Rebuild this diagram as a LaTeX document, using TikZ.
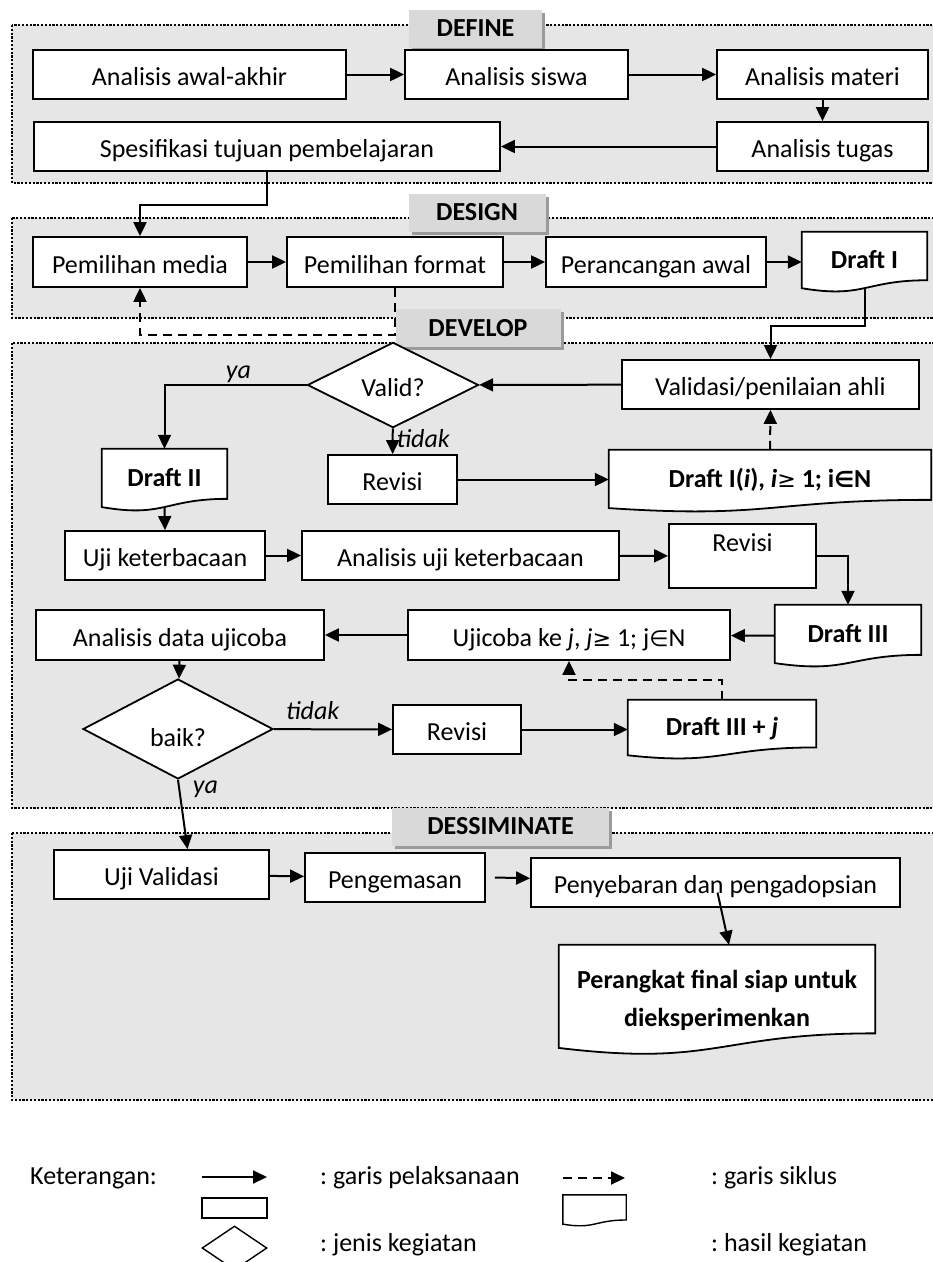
\documentclass[tikz,border=0pt]{standalone}
\usepackage{fontspec}
\setmainfont{Carlito}
\newfontfamily\symfont[Scale=0.85]{DejaVu Sans}
\usepackage{tikz}
\usetikzlibrary{calc}
\usetikzlibrary{shapes.geometric,arrows.meta}
\usetikzlibrary{shadows}

\definecolor{panelgray}{HTML}{E6E6E6}
\definecolor{tabgray}{HTML}{D9D9D9}
\definecolor{tabshadow}{HTML}{9B9B9B}

\pgfdeclarelayer{panel}
\pgfdeclarelayer{docs}
\pgfsetlayers{panel,docs,main}

% outline of a document box (wavy bottom) round a node
\newcommand{\docshape}[1]{%
	\draw[boxline, fill=white] (#1.north west) -- (#1.north east)
	-- ($(#1.north east)!0.802!(#1.south east)$)
	.. controls ($(#1.north)!0.802!(#1.south)$) and ($(#1.north)!1.107!(#1.south)$)
	.. ($(#1.north west)!0.934!(#1.south west)$) -- cycle;}

\begin{document}
\frenchspacing
\fontsize{26}{31}\selectfont
\begin{tikzpicture}[x=1pt,y=-1pt,
	boxline/.style={line width=1.8pt},
	box/.style={draw, fill=white, boxline, minimum height=49pt, inner sep=2pt, text height=22pt, text depth=0pt},
	doc/.style={inner sep=2pt, font=\bfseries},
	docline/.style={doc, text height=17pt, text depth=5pt},
	dec/.style={diamond, draw, fill=white, boxline, inner sep=0pt, text height=22pt, text depth=0pt},
	tab/.style={fill=tabgray, minimum height=38pt, inner sep=0pt, font=\bfseries,
		drop shadow={shadow xshift=3pt, shadow yshift=-3pt, fill=tabshadow, opacity=1}},
	panelbox/.style={fill=panelgray, draw, line width=2.4pt, dash pattern=on 2.2pt off 1.6pt},
	arr/.style={line width=2pt, -{Triangle[length=14pt,width=13pt]}},
	cyc/.style={arr, dash pattern=on 9pt off 6pt},
	lab/.style={font=\itshape},
	legtext/.style={anchor=west, inner xsep=0pt}]
	
	\useasboundingbox (0,0) rectangle (933,1262);
	
	\begin{pgfonlayer}{panel}
	\draw[panelbox] (12,25) rectangle (945,183);
	\draw[panelbox] (12,218) rectangle (945,318);
	\draw[panelbox] (12,343) rectangle (945,808);
	\draw[panelbox] (12,833) rectangle (945,1100);
	\end{pgfonlayer}
	
	% DEFINE
	\node[tab, minimum width=133pt] (tdefine) at (475.5,28.5) {DEFINE};
	\node[box, minimum width=313pt] (awal) at (189.5,74.5) {Analisis awal-akhir};
	\node[box, minimum width=223pt] (siswa) at (516.5,74.5) {Analisis siswa};
	\node[box, minimum width=211pt] (materi) at (822.5,74.5) {Analisis materi};
	\node[box, minimum width=211pt] (tugas) at (822.5,146.5) {Analisis tugas};
	\node[box, minimum width=466pt] (spesifikasi) at (267,146.5) {Spesifikasi tujuan pembelajaran};
	
	% DESIGN
	\node[tab, minimum width=137pt] (tdesign) at (477,212.5) {DESIGN};
	\node[box, minimum width=214pt, minimum height=50pt] (media) at (140,262) {Pemilihan media};
	\node[box, minimum width=216pt, minimum height=50pt] (format) at (395,262) {Pemilihan format};
	\node[box, minimum width=220pt, minimum height=50pt] (rancang) at (656,262) {Perancangan awal};
	\node[docline, minimum width=125pt, minimum height=60pt] (draftI) at (864.5,262) {Draft I};
	
	% DEVELOP
	\node[tab, minimum width=165pt] (tdevelop) at (478,328) {DEVELOP};
	\node[box, minimum width=297pt] (validasi) at (770.5,384.5) {Validasi/penilaian ahli};
	\node[dec, minimum width=171pt, minimum height=60pt] (valid) at (393,385) {Valid?};
	\node[docline, minimum width=125pt, minimum height=62pt] (draftII) at (164.5,480) {Draft II};
	\node[box, minimum width=129pt] (revisiA) at (392.5,479.5) {Revisi};
	\node[docline, minimum width=322pt, minimum height=62pt] (draftIi) at (770,481) {Draft I(\textit{i}), \textit{i}{\symfont\mdseries ≥} 1; i{\symfont ∈}N};
	\node[box, minimum width=200pt] (ujibaca) at (165,555.5) {Uji keterbacaan};
	\node[box, minimum width=317pt] (analisisbaca) at (460.5,555.5) {Analisis uji keterbacaan};
	\node[box, minimum width=147pt, minimum height=64pt, text height=18pt, text depth=27pt] (revisiB) at (742.5,556) {Revisi};
	\node[docline, minimum width=146pt, minimum height=62pt] (draftIII) at (848,636) {Draft III};
	\node[box, minimum width=322pt, minimum height=50pt] (ujicoba) at (569,635) {Ujicoba ke \textit{j}, \textit{j}{\symfont ≥} 1; j{\symfont ∈}N};
	\node[box, minimum width=288pt, minimum height=50pt] (analisisdata) at (180,635) {Analisis data ujicoba};
	\node[dec, minimum width=190pt, minimum height=100pt, text height=34pt, text depth=0pt] (baik) at (178,729) {baik?};
	\node[box, minimum width=128pt] (revisiC) at (457,729.5) {Revisi};
	\node[docline, minimum width=188pt, minimum height=59pt] (draftIIIj) at (722,729.5) {Draft III + \textit{j}};
	
	% DESSIMINATE
	\node[tab, minimum width=217pt] (tdessiminate) at (500.5,826.5) {DESSIMINATE};
	\node[box, minimum width=215pt] (ujivalidasi) at (161.5,874.5) {Uji Validasi};
	\node[box, minimum width=180pt] (kemas) at (395,877.5) {Pengemasan};
	\node[box, minimum width=369pt] (sebar) at (715.5,882.5) {Penyebaran dan pengadopsian};
	\node[doc, minimum width=316pt, minimum height=110pt, align=center] (final) at (717,1000) {Perangkat final siap untuk\\[7pt]dieksperimenkan};
	
	% Keterangan
	\node[legtext] (ket) at (30,1178) {Keterangan:};
	\coordinate (lsa) at (202,1177);
	\coordinate (lsb) at (267,1177);
	\node[box, line width=1.4pt, minimum width=65pt, minimum height=20pt, inner sep=0pt, text height=0pt] (lbox) at (234.5,1208) {};
	\node[dec, line width=1.4pt, minimum width=65pt, minimum height=44pt, text height=0pt] (ldec) at (234.5,1248) {};
	\node[legtext] (lpel) at (320,1178) {: garis pelaksanaan};
	\node[legtext] (ljen) at (320,1245) {: jenis kegiatan};
	\coordinate (lda) at (563,1178);
	\coordinate (ldb) at (625,1178);
	\node[doc, minimum width=63pt, minimum height=31pt] (ldoc) at (594.5,1210.5) {};
	\node[legtext] (lsik) at (711,1178) {: garis siklus};
	\node[legtext] (lhas) at (711,1245) {: hasil kegiatan};
	
	\begin{pgfonlayer}{docs}
	\docshape{draftI}
	\docshape{draftII}
	\docshape{draftIi}
	\docshape{draftIII}
	\docshape{draftIIIj}
	\docshape{final}
	\begin{scope}[boxline/.style={line width=1.4pt}]
	\docshape{ldoc}
	\end{scope}
	\end{pgfonlayer}
	
	% garis pelaksanaan
	\draw[arr] (awal) -- (siswa);
	\draw[arr] (siswa) -- (materi);
	\draw[arr] (materi) -- (tugas);
	\draw[arr] (tugas) -- (spesifikasi);
	\draw[arr] (spesifikasi.south) -- ++(0,33) -| (media.north);
	\draw[arr] (media) -- (format);
	\draw[arr] (format) -- (rancang);
	\draw[arr] (rancang) -- (draftI);
	\draw[arr] ($(draftI.north)!0.93!(draftI.south)$) -- ++(0,38) -| (validasi.north);
	\draw[arr] (validasi) -- (valid);
	\draw[arr] (valid.west) -| (draftII.north) node[lab, pos=0.24, above, inner ysep=1pt] {ya};
	\draw[arr] (valid) -- (revisiA) node[lab, pos=0.38, right, inner xsep=3pt] {tidak};
	\draw[arr] (revisiA.east) -- (revisiA.east -| draftIi.west);
	\draw[arr] ($(draftII.north)!0.93!(draftII.south)$) -- (ujibaca.north);
	\draw[arr] (ujibaca) -- (analisisbaca);
	\draw[arr] (analisisbaca) -- (revisiB);
	\draw[arr] (revisiB.east) -| (draftIII.north);
	\draw[arr] (draftIII) -- (ujicoba);
	\draw[arr] (ujicoba) -- (analisisdata);
	\draw[arr] (analisisdata) -- (baik);
	\draw[arr] (baik) -- (revisiC) node[lab, pos=0.33, above] {tidak};
	\draw[arr] (revisiC) -- (draftIIIj);
	\draw[arr] (baik.south) -- ($(ujivalidasi.north west)!0.62!(ujivalidasi.north east)$) node[lab, pos=0.14, right, xshift=4pt] {ya};
	\draw[arr] (ujivalidasi) -- (kemas);
	\draw[arr] ([xshift=9pt]kemas.east) -- (sebar);
	\draw[arr] ($(sebar.center)+(2,10)$) -- ($(final.north)+(12,0)$);
	
	% garis siklus
	\draw[cyc] (format.south) -- ++(0,47) -| (media.south);
	\draw[cyc] (draftIi.north) -- (validasi.south);
	\draw[cyc] (draftIIIj.north) -- ++(0,-20) -| (ujicoba.south);
	
	% keterangan garis
	\draw[arr] (lsa) -- (lsb);
	\draw[cyc] (lda) -- (ldb);
	
\end{tikzpicture}
\end{document}
